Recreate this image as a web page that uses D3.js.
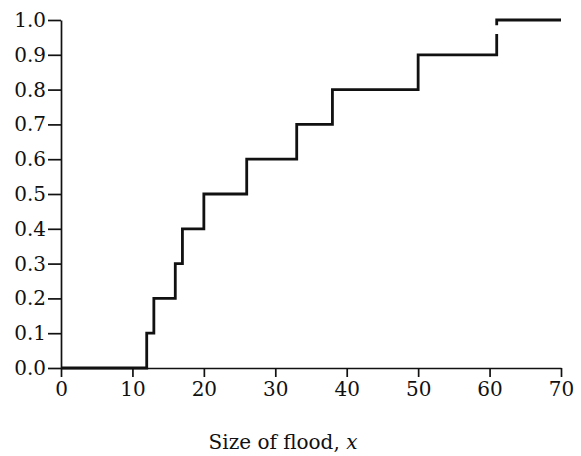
<!DOCTYPE html>
<html>
<head>
<meta charset="utf-8">
<script src="https://cdn.jsdelivr.net/npm/d3@7"></script>
<style>
  body { margin: 0; background: #fff; }
  svg text { font-family: 'DejaVu Serif', 'Liberation Serif', serif; fill: #111; }
</style>
</head>
<body>
<svg id="chart" width="581" height="456"></svg>
<script>
/* global d3 */

// jump points of the empirical distribution (flood size, cumulative proportion)
const jumpX = [12, 13, 16, 17, 20, 26, 33, 38, 50, 61]
const jumpY = [0.1, 0.2, 0.3, 0.4, 0.5, 0.6, 0.7, 0.8, 0.9, 1.0]
const xTicks = [0, 10, 20, 30, 40, 50, 60, 70]
const yTicks = [0, 0.1, 0.2, 0.3, 0.4, 0.5, 0.6, 0.7, 0.8, 0.9, 1.0]
const xEnd = 70

const svg = d3.select('#chart')
const x = d3.scaleLinear().domain([0, 70]).range([61, 561])
const y = d3.scaleLinear().domain([0, 1]).range([368, 20])

// y axis
const yAxis = svg.append('g')
  .attr('transform', 'translate(' + x(0) + ',0)')
  .call(d3.axisLeft(y).tickValues(yTicks).tickFormat(d3.format('.1f')).tickSize(13).tickSizeOuter(0))
yAxis.select('.domain').attr('stroke-width', 1.7).attr('stroke', '#111')
yAxis.selectAll('.tick line').attr('stroke-width', 1.7).attr('stroke', '#111')
yAxis.selectAll('.tick text').attr('font-size', 20).attr('x', -15)

// x axis
const xAxis = svg.append('g')
  .attr('transform', 'translate(0,' + y(0) + ')')
  .call(d3.axisBottom(x).tickValues(xTicks).tickSize(9).tickSizeOuter(0))
xAxis.select('.domain').attr('stroke-width', 1.7).attr('stroke', '#111')
xAxis.selectAll('.tick line').attr('stroke-width', 1.7).attr('stroke', '#111')
xAxis.selectAll('.tick text').attr('font-size', 20).attr('y', 14)

// step function
const pts = [[0, 0]]
jumpX.forEach((jx, i) => pts.push([jx, jumpY[i]]))
const last = pts.pop()
pts.push([last[0], 0.96])

const line = d3.line().x(d => x(d[0])).y(d => y(d[1])).curve(d3.curveStepAfter)
svg.append('path')
  .attr('d', line(pts))
  .attr('fill', 'none')
  .attr('stroke', '#111')
  .attr('stroke-width', 2.8)

// top segment (drawn apart, as in the original print)
svg.append('path')
  .attr('d', d3.line().x(d => x(d[0])).y(d => y(d[1]))([[last[0], 0.985], [last[0], last[1]], [xEnd, last[1]]]))
  .attr('fill', 'none')
  .attr('stroke', '#111')
  .attr('stroke-width', 2.8)

svg.append('text')
  .attr('x', 283)
  .attr('y', 449)
  .attr('text-anchor', 'middle')
  .attr('font-size', 20)
  .text('Size of flood, ')
  .append('tspan')
  .attr('font-style', 'italic')
  .text('x')
</script>
</body>
</html>
